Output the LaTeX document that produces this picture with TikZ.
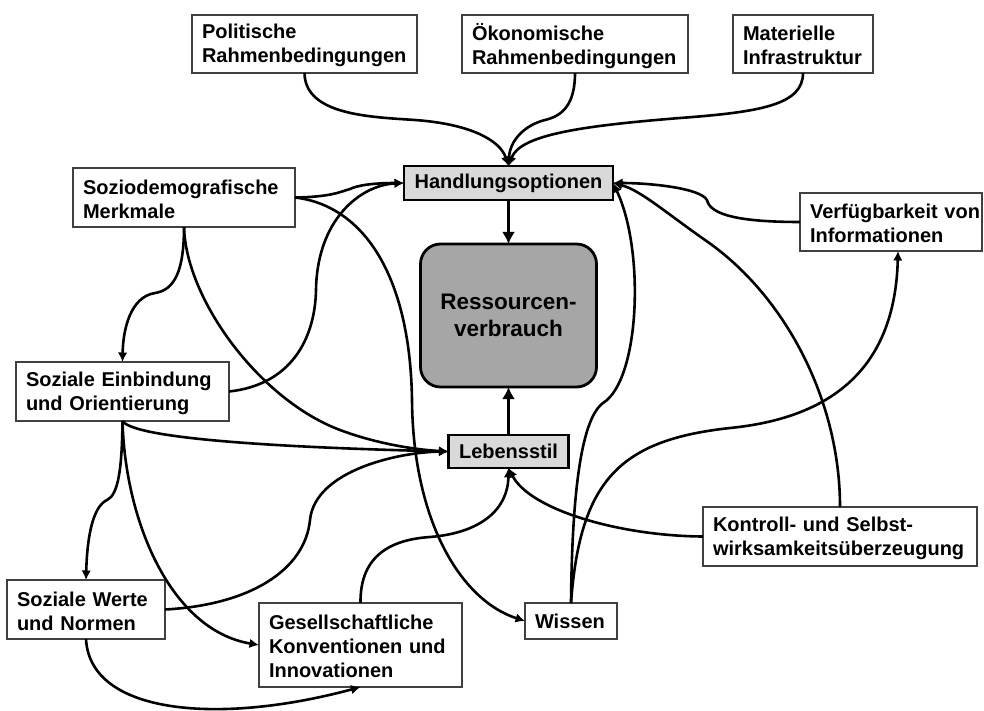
\documentclass[tikz,border=0pt]{standalone}
\usepackage{fontspec}
\setmainfont{Liberation Sans}
\usetikzlibrary{arrows.meta}
\newcommand\mylbl{\fontsize{20}{24}\selectfont\bfseries\hyphenpenalty=10000\exhyphenpenalty=10000\relax}
\newcommand\mybig{\fontsize{22.5}{27}\selectfont\bfseries}
\newcommand\mylower{\endgraf\vspace*{-3.5pt}}
\definecolor{lightbox}{HTML}{D9D9D9}
\definecolor{darkbox}{HTML}{A6A6A6}
\begin{document}
\begin{tikzpicture}[x=1pt,y=-1pt,
  wbox/.style={draw=black!75, line width=1.2pt, fill=white, inner xsep=10pt, inner ysep=0pt, outer sep=0pt, align=left, font=\mylbl, execute at end node=\mylower},
  gbox/.style={draw=black, line width=2.8pt, fill=lightbox, inner sep=0pt, outer sep=0pt, font=\mylbl},
  resbox/.style={draw=black, line width=2.8pt, fill=darkbox, rounded corners=20pt, align=center, font=\mybig, inner sep=0pt, outer sep=0pt},
  conn/.style={line width=2.6pt, -{Latex[length=9.5pt,width=9.5pt]}},
  bigconn/.style={line width=2.8pt, -{Latex[length=12pt,width=13pt]}},
]
\useasboundingbox (0,0) rectangle (984,711);

\node[wbox, minimum width=225pt, minimum height=58pt, text width=205pt] (pol) at (304.5,44) {Politische\\Rahmenbedingungen};
\node[wbox, minimum width=226pt, minimum height=58pt, text width=206pt] (oek) at (575,44) {Ökonomische\\Rahmenbedingungen};
\node[wbox, minimum width=140pt, minimum height=58pt, text width=120pt] (mat) at (803,44) {Materielle\\Infrastruktur};
\node[gbox, minimum width=209pt, minimum height=34pt] (hand) at (508.5,183) {Handlungsoptionen};
\node[resbox, minimum width=176pt, minimum height=143pt] (res) at (508.5,315.5) {Ressourcen-\\verbrauch};
\node[gbox, minimum width=120pt, minimum height=33pt] (leb) at (508.5,451.5) {Lebensstil};
\node[wbox, minimum width=222pt, minimum height=59pt, text width=202pt] (sozio) at (184,197.5) {Soziodemografische\\Merkmale};
\node[wbox, minimum width=213pt, minimum height=59pt, text width=193pt] (einb) at (122.5,391.5) {Soziale Einbindung\\und Orientierung};
\node[wbox, minimum width=158pt, minimum height=59pt, text width=138pt] (werte) at (86,609.5) {Soziale Werte\\und Normen};
\node[wbox, minimum width=203pt, minimum height=84pt, text width=183pt] (gesell) at (360.5,645) {Gesellschaftliche\\Konventionen und\\Innovationen};
\node[wbox, minimum width=92pt, minimum height=36pt, text width=72pt] (wissen) at (571,621) {Wissen};
\node[wbox, minimum width=274pt, minimum height=59pt, text width=254pt] (kontr) at (840,536.5) {Kontroll- und Selbst-\\wirksamkeitsüberzeugung};
\node[wbox, minimum width=182pt, minimum height=58pt, text width=162pt] (verf) at (891,222) {\mbox{Verfügbarkeit von}\\Informationen};

\draw[conn] (pol.south) .. controls (305,115) and (370,117) .. (415,120) .. controls (470,124) and (500,140) .. (hand.north);
\draw[conn] (oek.south) .. controls (575,105) and (562,116) .. (545,120) .. controls (525,125) and (510,140) .. (hand.north);
\draw[conn] (mat.south) .. controls (803,105) and (760,112) .. (680,118) .. controls (580,126) and (520,135) .. (hand.north);

\draw[conn] (sozio.east) .. controls (330,197) and (340,192) .. (350,189) .. controls (358,185) and (375,183) .. (hand.west);
\draw[conn] (einb.east) .. controls (290,385) and (315,340) .. (316,290) .. controls (317,220) and (360,185) .. (hand.west);
\draw[conn] (sozio.east) .. controls (360,205) and (410,270) .. (412,400) .. controls (413,520) and (460,600) .. (wissen.west);
\draw[conn] (sozio.south) .. controls (184,270) and (175,290) .. (155,293) .. controls (130,297) and (123,330) .. (einb.north);
\draw[conn] (sozio.south) .. controls (186,300) and (260,400) .. (340,430) .. controls (380,445) and (420,450) .. (leb.west);
\draw[conn] (einb.south) .. controls (135,440) and (300,448) .. (leb.west);
\draw[conn] (einb.south) .. controls (122,470) and (118,495) .. (107,500) .. controls (92,507) and (87,540) .. (werte.north);
\draw[conn] (einb.south) .. controls (125,520) and (170,630) .. (gesell.west);
\draw[conn] (werte.east) .. controls (250,605) and (305,570) .. (310,520) .. controls (315,470) and (400,452) .. (leb.west);
\draw[conn] (werte.south) .. controls (90,715) and (220,725) .. (gesell.south);
\draw[conn] (gesell.north) .. controls (360,560) and (385,540) .. (430,537) .. controls (480,533) and (508,510) .. (leb.south);
\draw[conn] (kontr.west) .. controls (620,536) and (530,510) .. (leb.south);
\draw[conn] (kontr.north) .. controls (840,400) and (785,295) .. (705,240) .. controls (665,212) and (640,190) .. (hand.east);
\draw[conn] (verf.west) .. controls (740,222) and (710,215) .. (707,200) .. controls (700,188) and (650,183) .. (hand.east);
\draw[conn] (wissen.north) .. controls (572,500) and (580,420) .. (603,403) .. controls (640,380) and (645,250) .. (hand.east);
\draw[conn] (wissen.north) .. controls (580,480) and (620,440) .. (730,428) .. controls (830,418) and (895,370) .. ([xshift=7pt]verf.south);

\draw[bigconn] (hand.south) -- (res.north);
\draw[bigconn] (leb.north) -- (res.south);
\end{tikzpicture}
\end{document}
